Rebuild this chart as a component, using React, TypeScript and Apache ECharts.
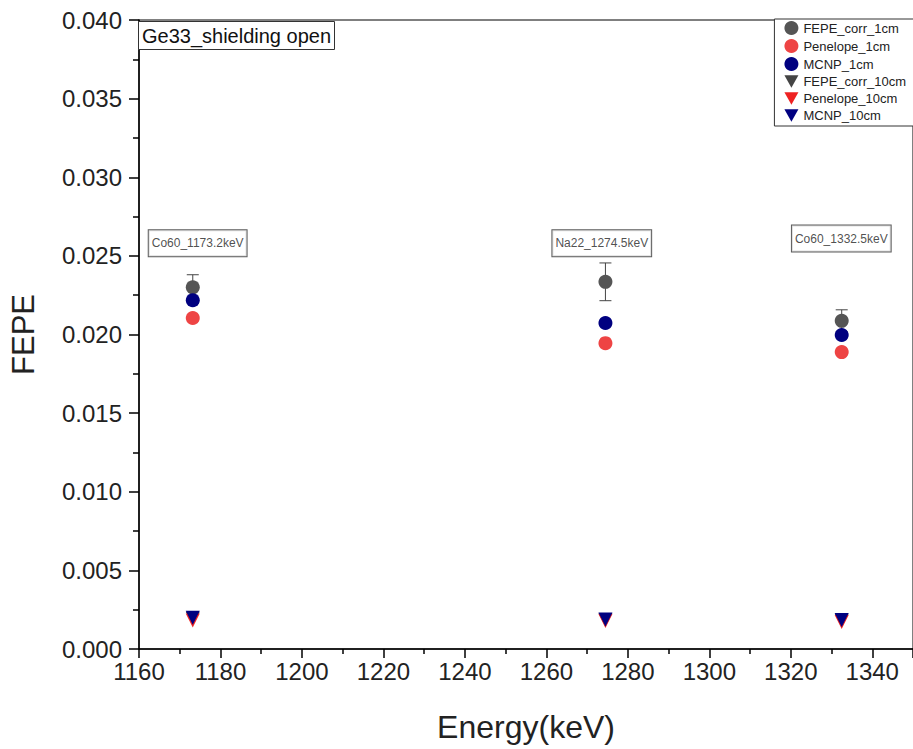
import React, { useEffect, useRef } from "react";
import * as echarts from "echarts";

const energies = [1173.2, 1274.5, 1332.5];
const fepeCorr1cm = [0.0230, 0.02335, 0.02087];
const fepeCorr1cmErr = [0.0008, 0.0012, 0.0007];
const penelope1cm = [0.02105, 0.01945, 0.01888];
const mcnp1cm = [0.02218, 0.02073, 0.01997];
const fepeCorr10cm = [0.00192, 0.00184, 0.0018];
const penelope10cm = [0.00182, 0.00178, 0.00172];
const mcnp10cm = [0.00198, 0.00188, 0.00184];
const annotationLabels = ["Co60_1173.2keV", "Na22_1274.5keV", "Co60_1332.5keV"];
const annotationX = [1174.4, 1273.6, 1332.4];
const annotationY = [0.0258, 0.0258, 0.0261];

const TRI = "path://M0,0 L10,0 L5,9 Z";
const FONT = "Liberation Sans, Arial, sans-serif";

export default function App() {
  const ref = useRef<HTMLDivElement>(null);
  useEffect(() => {
    const chart = echarts.init(ref.current!, null, { renderer: "svg" });
    const pts = (ys: number[]) => energies.map((x, i) => [x, ys[i]]);
    const scatter = (name: string, ys: number[], color: string, symbol: string, size: number, z: number) => ({
      name,
      type: "scatter",
      data: pts(ys),
      symbol,
      symbolSize: size,
      itemStyle: { color, opacity: 1 },
      z,
    });
    chart.setOption({
      animation: false,
      textStyle: { fontFamily: FONT },
      title: {
        text: "Ge33_shielding open",
        left: 138,
        top: 21,
        padding: [4, 4, 3, 4],
        borderColor: "#333",
        borderWidth: 1,
        backgroundColor: "#fff",
        textStyle: { fontFamily: FONT, fontSize: 20, fontWeight: "normal", color: "#111", lineHeight: 22 },
      },
      legend: {
        orient: "vertical",
        right: -10,
        top: 19,
        itemWidth: 14,
        itemHeight: 14,
        itemGap: 4,
        padding: [2, 17, 4, 10],
        borderColor: "#333",
        borderWidth: 1,
        backgroundColor: "#fff",
        textStyle: { fontFamily: FONT, fontSize: 13, color: "#222" },
        data: [
          { name: "FEPE_corr_1cm", icon: "circle" },
          { name: "Penelope_1cm", icon: "circle" },
          { name: "MCNP_1cm", icon: "circle" },
          { name: "FEPE_corr_10cm", icon: TRI },
          { name: "Penelope_10cm", icon: TRI },
          { name: "MCNP_10cm", icon: TRI },
        ],
      },
      grid: { left: 137, top: 20, right: -1, bottom: 100, show: true, borderColor: "#000", borderWidth: 1 },
      xAxis: {
        type: "value",
        min: 1160,
        max: 1350,
        interval: 20,
        name: "Energy(keV)",
        nameLocation: "middle",
        nameGap: 62,
        nameTextStyle: { fontFamily: FONT, fontSize: 32, color: "#222" },
        axisLine: { lineStyle: { color: "#000", width: 1.5 } },
        axisTick: { show: true, length: 9, lineStyle: { color: "#000", width: 1.5 } },
        minorTick: { show: true, splitNumber: 2, length: 5, lineStyle: { color: "#000", width: 1.5 } },
        axisLabel: { fontFamily: FONT, fontSize: 24, color: "#222", margin: 10, showMaxLabel: false, formatter: (v: number) => String(v) },
        splitLine: { show: false },
      },
      yAxis: {
        type: "value",
        min: 0,
        max: 0.04,
        interval: 0.005,
        name: "FEPE",
        nameLocation: "middle",
        nameGap: 100,
        nameTextStyle: { fontFamily: FONT, fontSize: 31, color: "#222" },
        axisLine: { show: true, lineStyle: { color: "#000", width: 1.5 } },
        axisTick: { show: true, length: 10, lineStyle: { color: "#000", width: 1.5 } },
        minorTick: { show: true, splitNumber: 2, length: 6, lineStyle: { color: "#000", width: 1.5 } },
        axisLabel: { fontFamily: FONT, fontSize: 24, color: "#222", margin: 17, formatter: (v: number) => v.toFixed(3) },
        splitLine: { show: false },
      },
      series: [
        {
          name: "errbar",
          type: "custom",
          data: energies.map((x, i) => [x, fepeCorr1cm[i], fepeCorr1cmErr[i]]),
          z: 1,
          renderItem: (params: any, api: any) => {
            const x = api.value(0), y = api.value(1), e = api.value(2);
            const t = api.coord([x, y + e]);
            const b = api.coord([x, y - e]);
            const st = { stroke: "#444", lineWidth: 1 };
            return {
              type: "group",
              children: [
                { type: "line", shape: { x1: t[0], y1: t[1], x2: b[0], y2: b[1] }, style: st },
                { type: "line", shape: { x1: t[0] - 6, y1: t[1], x2: t[0] + 6, y2: t[1] }, style: st },
                { type: "line", shape: { x1: b[0] - 6, y1: b[1], x2: b[0] + 6, y2: b[1] }, style: st },
              ],
            };
          },
        },
        scatter("FEPE_corr_1cm", fepeCorr1cm, "#555555", "circle", 14, 3),
        scatter("Penelope_1cm", penelope1cm, "#ee4444", "circle", 14, 2),
        scatter("MCNP_1cm", mcnp1cm, "#000080", "circle", 14, 4),
        scatter("FEPE_corr_10cm", fepeCorr10cm, "#444444", TRI, 14, 2),
        scatter("Penelope_10cm", penelope10cm, "#ee2222", TRI, 14, 3),
        scatter("MCNP_10cm", mcnp10cm, "#000080", TRI, 14, 4),
        {
          name: "annotations",
          type: "scatter",
          symbolSize: 0,
          data: annotationX.map((x, i) => [x, annotationY[i], annotationLabels[i]]),
          z: 5,
          label: {
            show: true,
            position: "inside",
            formatter: (p: any) => p.value[2],
            fontFamily: FONT,
            fontSize: 12,
            color: "#222",
            backgroundColor: "#fff",
            borderColor: "#333",
            borderWidth: 1,
            padding: [7, 3, 7, 3],
          },
        },
      ],
    });
    return () => chart.dispose();
  }, []);
  return <div ref={ref} style={{ width: 913, height: 749, position: "absolute", left: 0, top: 0, background: "#fff" }} />;
}
